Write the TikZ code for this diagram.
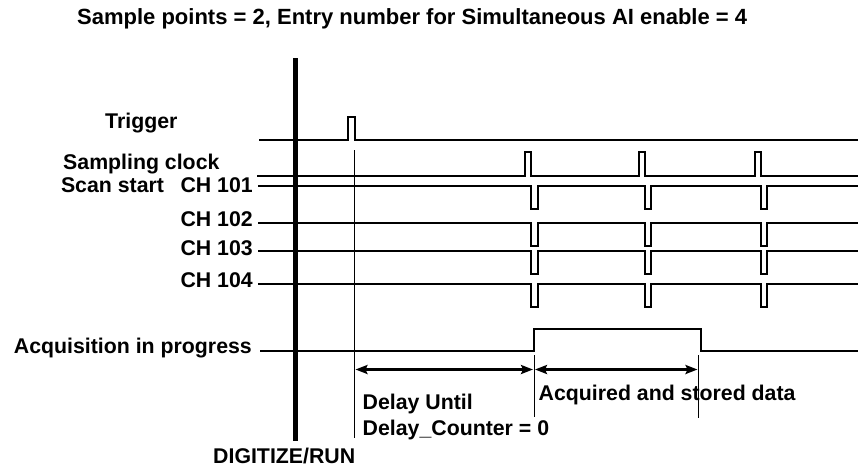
\documentclass[tikz,border=0pt]{standalone}
\usepackage{fontspec}
\setmainfont{Liberation Sans}
\usetikzlibrary{arrows.meta}
\begin{document}
\begin{tikzpicture}[x=1pt,y=-1pt,
  lbl/.style={inner sep=0pt, font=\fontsize{21.3}{21.3}\selectfont\bfseries},
  ttl/.style={inner sep=0pt, font=\fontsize{22}{22}\selectfont\bfseries},
  sig/.style={line width=2pt, line join=miter},
  thin/.style={line width=1pt},
  dim/.style={line width=2.8pt, {Stealth[length=12pt,width=9pt,inset=2pt]}-{Stealth[length=12pt,width=9pt,inset=2pt]}},
  run/.style={line width=5pt}]
\useasboundingbox (0,0) rectangle (859,467);
% title
\node[ttl, anchor=base west] (title) at (77,24) {Sample points = 2, Entry number for Simultaneous AI enable = 4};
% labels
\node[lbl, anchor=base west] (ltrig) at (105,128) {Trigger};
\node[lbl, anchor=base west] (lclk) at (63,169.5) {Sampling clock};
\node[lbl, anchor=base east] (l101) at (253,192.5) {Scan start\hspace{0.5em} CH 101};
\node[lbl, anchor=base east] (l102) at (253,226.5) {CH 102};
\node[lbl, anchor=base east] (l103) at (253,255) {CH 103};
\node[lbl, anchor=base east] (l104) at (253,287.5) {CH 104};
\node[lbl, anchor=base east] (lacq) at (252,353) {Acquisition in progress};
\node[lbl, anchor=base west] (ldelay1) at (362.5,409.5) {Delay Until};
\node[lbl, anchor=base west] (ldelay2) at (362.5,435) {Delay\_Counter = 0};
\node[lbl, anchor=base west] (lstore) at (538.5,400) {Acquired and stored data};
\node[lbl, anchor=base west] (lrun) at (213,463) {DIGITIZE/RUN};
% DIGITIZE/RUN bar
\coordinate (runtop) at (295.5,58);
\coordinate (runbot) at (295.5,441);
\draw[run] (runtop) -- (runbot);
% trigger
\draw[sig] (259,140) -- (348,140) -- (348,117) -- (354.5,117) -- (354.5,140) -- (858,140);
% sampling clock
\draw[sig] (257,175.5)
  -- (524.5,175.5) -- (524.5,152) -- (531,152) -- (531,175.5)
  -- (638.5,175.5) -- (638.5,152) -- (645,152) -- (645,175.5)
  -- (754.5,175.5) -- (754.5,152) -- (761,152) -- (761,175.5) -- (858,175.5);
% channels
\foreach \y/\d in {186/23, 222.5/23, 251/23, 283.5/23}{
  \draw[sig] (258,\y)
    -- (531,\y) -- (531,\y+\d) -- (537.5,\y+\d) -- (537.5,\y)
    -- (644.5,\y) -- (644.5,\y+\d) -- (651,\y+\d) -- (651,\y)
    -- (760.5,\y) -- (760.5,\y+\d) -- (767,\y+\d) -- (767,\y) -- (858,\y);
}
% acquisition
\draw[sig] (260,350.5) -- (534,350.5) -- (534,329) -- (701,329) -- (701,350.5) -- (858,350.5);
% marker lines
\coordinate (m1top) at (354.5,150);
\coordinate (m1bot) at (354.5,438);
\coordinate (m2top) at (534,355);
\coordinate (m2bot) at (534,417);
\coordinate (m3top) at (698,355);
\coordinate (m3bot) at (698,418);
\draw[thin] (m1top) -- (m1bot);
\draw[thin] (m2top) -- (m2bot);
\draw[thin] (m3top) -- (m3bot);
% dimension arrows
\coordinate (a1) at (355.5,369.5);
\coordinate (a2) at (533,369.5);
\coordinate (a3) at (535,369.5);
\coordinate (a4) at (697.5,369.5);
\draw[dim] (a1) -- (a2);
\draw[dim] (a3) -- (a4);
\end{tikzpicture}
\end{document}
